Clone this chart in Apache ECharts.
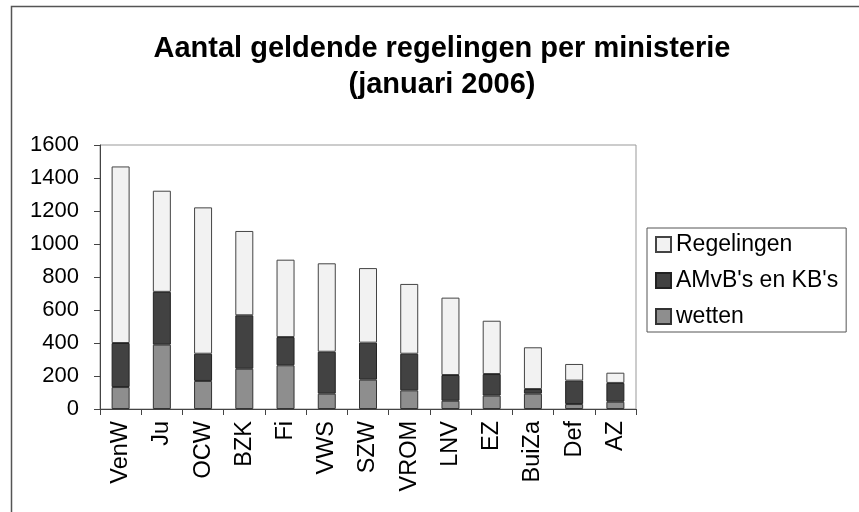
<!DOCTYPE html>
<html lang="nl">
<head>
    <meta charset="UTF-8">
    <title>Aantal geldende regelingen per ministerie</title>
    <script src="https://cdn.jsdelivr.net/npm/echarts@6/dist/echarts.min.js"></script>
</head>
<body style="margin:0;background:#fff;">
<div id="main" style="width: 859px;height:512px;"></div>
</body>
<script type="text/javascript">
    // ministeries
    var categories = ['VenW', 'Ju', 'OCW', 'BZK', 'Fi', 'VWS', 'SZW', 'VROM', 'LNV', 'EZ', 'BuiZa', 'Def', 'AZ'];
    // waarden
    var wetten = [133, 390, 170, 244, 265, 93, 178, 113, 50, 81, 93, 30, 44];
    var amvb = [267, 320, 165, 324, 171, 254, 224, 222, 156, 131, 28, 142, 114];
    var regelingen = [1070, 613, 887, 511, 469, 536, 452, 423, 469, 323, 253, 101, 62];
    var yTicks = [0, 200, 400, 600, 800, 1000, 1200, 1400, 1600];

    var myChart = echarts.init(document.getElementById('main'));

    var font = 'Liberation Sans, Arial, Helvetica, sans-serif';

    var option = {
        backgroundColor: '#fff',
        textStyle: {fontFamily: font, color: '#000'},
        title: {
            text: 'Aantal geldende regelingen per ministerie\n(januari 2006)',
            left: 437,
            top: 26,
            textAlign: 'center',
            textStyle: {fontSize: 29, fontWeight: 'bold', color: '#000', lineHeight: 36, fontFamily: font}
        },
        graphic: [{
            type: 'polyline',
            shape: {points: [[11.5, 520], [11.5, 6.5], [870, 6.5]]},
            style: {stroke: '#555', lineWidth: 1.5, fill: null}
        }],
        legend: {
            data: ['Regelingen', "AMvB's en KB's", 'wetten'],
            orient: 'vertical',
            left: 647,
            top: 228,
            padding: [5, 8, 4, 8],
            itemGap: 13,
            itemWidth: 15,
            itemHeight: 15,
            icon: 'rect',
            borderColor: '#555',
            borderWidth: 1,
            borderRadius: 0,
            textStyle: {fontSize: 23, lineHeight: 22, color: '#000', fontFamily: font}
        },
        grid: {
            left: 100,
            right: 223,
            top: 145,
            bottom: 103,
            show: true,
            borderColor: '#999',
            borderWidth: 1
        },
        xAxis: {
            type: 'category',
            data: categories,
            axisLine: {lineStyle: {color: '#444', width: 1}},
            axisTick: {show: true, length: 6, alignWithLabel: false, lineStyle: {color: '#444'}},
            axisLabel: {rotate: 90, fontSize: 23.5, color: '#000', margin: 12, fontFamily: font}
        },
        yAxis: {
            type: 'value',
            min: yTicks[0],
            max: yTicks[yTicks.length - 1],
            interval: 200,
            axisLine: {show: true, lineStyle: {color: '#444', width: 1}},
            axisTick: {show: true, length: 6, lineStyle: {color: '#444'}},
            splitLine: {show: false},
            axisLabel: {
                fontSize: 22, color: '#000', margin: 21, fontFamily: font,
                formatter: function (v) { return String(v); }
            }
        },
        series: [
            {
                name: 'wetten',
                type: 'bar',
                stack: 'totaal',
                barWidth: 18,
                data: wetten,
                itemStyle: {color: '#8e8e8e', borderColor: '#333', borderWidth: 1}
            },
            {
                name: "AMvB's en KB's",
                type: 'bar',
                stack: 'totaal',
                data: amvb,
                itemStyle: {color: '#424242', borderColor: '#222', borderWidth: 1}
            },
            {
                name: 'Regelingen',
                type: 'bar',
                stack: 'totaal',
                data: regelingen,
                itemStyle: {color: '#f2f2f2', borderColor: '#444', borderWidth: 1}
            }
        ],
        animation: false
    };

    myChart.setOption(option);
</script>
</html>
